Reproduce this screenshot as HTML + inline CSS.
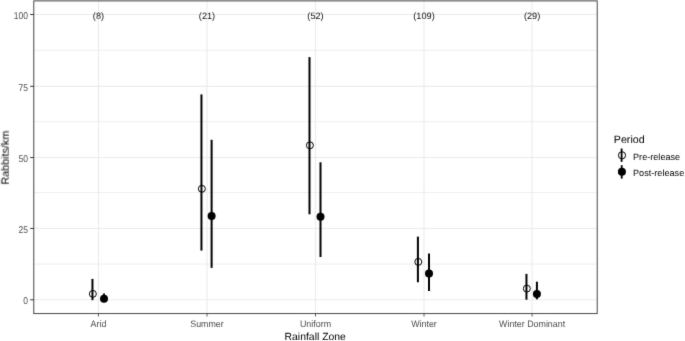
<!DOCTYPE html><html><head><meta charset="utf-8"><style>
html,body{margin:0;padding:0;background:#fff;width:685px;height:341px;overflow:hidden}
svg{display:block;font-family:"Liberation Sans",sans-serif;text-rendering:geometricPrecision}
</style></head><body>
<svg width="685" height="341" viewBox="0 0 685 341">
<defs><filter id="bl" x="0" y="0" width="685" height="341" filterUnits="userSpaceOnUse" color-interpolation-filters="sRGB"><feConvolveMatrix order="3" kernelMatrix="0.01 0.08 0.01 0.08 0.64 0.08 0.01 0.08 0.01" edgeMode="duplicate"/></filter></defs>
<g filter="url(#bl)">
<rect x="0" y="0" width="685" height="341" fill="#fff"/>
<line x1="33.8" x2="597.2" y1="264.10" y2="264.10" stroke="#ebebeb" stroke-width="0.8"/>
<line x1="33.8" x2="597.2" y1="192.50" y2="192.50" stroke="#ebebeb" stroke-width="0.8"/>
<line x1="33.8" x2="597.2" y1="121.70" y2="121.70" stroke="#ebebeb" stroke-width="0.8"/>
<line x1="33.8" x2="597.2" y1="50.30" y2="50.30" stroke="#ebebeb" stroke-width="0.8"/>
<line x1="33.8" x2="597.2" y1="299.80" y2="299.80" stroke="#ebebeb" stroke-width="1.1"/>
<line x1="33.8" x2="597.2" y1="228.45" y2="228.45" stroke="#ebebeb" stroke-width="1.1"/>
<line x1="33.8" x2="597.2" y1="157.56" y2="157.56" stroke="#ebebeb" stroke-width="1.1"/>
<line x1="33.8" x2="597.2" y1="86.33" y2="86.33" stroke="#ebebeb" stroke-width="1.1"/>
<line x1="33.8" x2="597.2" y1="14.50" y2="14.50" stroke="#ebebeb" stroke-width="1.1"/>
<line x1="98.45" x2="98.45" y1="0.9" y2="313.6" stroke="#ebebeb" stroke-width="1.1"/>
<line x1="207.0" x2="207.0" y1="0.9" y2="313.6" stroke="#ebebeb" stroke-width="1.1"/>
<line x1="315.5" x2="315.5" y1="0.9" y2="313.6" stroke="#ebebeb" stroke-width="1.1"/>
<line x1="424.0" x2="424.0" y1="0.9" y2="313.6" stroke="#ebebeb" stroke-width="1.1"/>
<line x1="532.1" x2="532.1" y1="0.9" y2="313.6" stroke="#ebebeb" stroke-width="1.1"/>
<text transform="translate(98.45,18.90)" font-size="9.2" text-anchor="middle" fill="#111">(8)</text>
<text transform="translate(207.00,18.90)" font-size="9.2" text-anchor="middle" fill="#111">(21)</text>
<text transform="translate(315.50,18.90)" font-size="9.2" text-anchor="middle" fill="#111">(52)</text>
<text transform="translate(424.00,18.90)" font-size="9.2" text-anchor="middle" fill="#111">(109)</text>
<text transform="translate(532.10,18.90)" font-size="9.2" text-anchor="middle" fill="#111">(29)</text>
<line x1="92.45" x2="92.45" y1="278.90" y2="300.15" stroke="#000" stroke-width="2.0"/>
<circle cx="92.85" cy="293.9" r="3.5" fill="none" stroke="#000" stroke-width="1.0"/>
<line x1="201.45" x2="201.45" y1="94.40" y2="250.60" stroke="#000" stroke-width="2.0"/>
<circle cx="201.85" cy="188.8" r="3.5" fill="none" stroke="#000" stroke-width="1.0"/>
<line x1="309.5" x2="309.5" y1="57.10" y2="214.30" stroke="#000" stroke-width="2.0"/>
<circle cx="309.90" cy="145.3" r="3.5" fill="none" stroke="#000" stroke-width="1.0"/>
<line x1="417.9" x2="417.9" y1="236.60" y2="282.30" stroke="#000" stroke-width="2.0"/>
<circle cx="418.30" cy="261.9" r="3.5" fill="none" stroke="#000" stroke-width="1.0"/>
<line x1="526.45" x2="526.45" y1="273.90" y2="299.70" stroke="#000" stroke-width="2.0"/>
<circle cx="526.85" cy="288.6" r="3.5" fill="none" stroke="#000" stroke-width="1.0"/>
<line x1="104.0" x2="104.0" y1="293.50" y2="300.40" stroke="#000" stroke-width="2.0"/>
<circle cx="104.0" cy="298.7" r="4.0" fill="#000"/>
<line x1="211.6" x2="211.6" y1="139.80" y2="267.90" stroke="#000" stroke-width="2.0"/>
<circle cx="211.6" cy="216.0" r="4.0" fill="#000"/>
<line x1="320.5" x2="320.5" y1="162.30" y2="257.00" stroke="#000" stroke-width="2.0"/>
<circle cx="320.5" cy="216.7" r="4.0" fill="#000"/>
<line x1="429.0" x2="429.0" y1="253.40" y2="291.10" stroke="#000" stroke-width="2.0"/>
<circle cx="429.0" cy="273.6" r="4.0" fill="#000"/>
<line x1="536.9" x2="536.9" y1="281.70" y2="299.30" stroke="#000" stroke-width="2.0"/>
<circle cx="536.9" cy="294.0" r="4.0" fill="#000"/>
<rect x="33.8" y="0.9" width="563.40" height="312.70" fill="none" stroke="#333" stroke-width="0.9"/>
<line x1="30.20" x2="33.8" y1="299.80" y2="299.80" stroke="#333" stroke-width="1.0"/>
<text transform="translate(28.00,304.10) scale(0.86,1)" font-size="9.9" text-anchor="end" fill="#4d4d4d">0</text>
<line x1="30.20" x2="33.8" y1="228.45" y2="228.45" stroke="#333" stroke-width="1.0"/>
<text transform="translate(28.00,232.75) scale(0.86,1)" font-size="9.9" text-anchor="end" fill="#4d4d4d">25</text>
<line x1="30.20" x2="33.8" y1="157.56" y2="157.56" stroke="#333" stroke-width="1.0"/>
<text transform="translate(28.00,161.86) scale(0.86,1)" font-size="9.9" text-anchor="end" fill="#4d4d4d">50</text>
<line x1="30.20" x2="33.8" y1="86.33" y2="86.33" stroke="#333" stroke-width="1.0"/>
<text transform="translate(28.00,90.63) scale(0.86,1)" font-size="9.9" text-anchor="end" fill="#4d4d4d">75</text>
<line x1="30.20" x2="33.8" y1="14.50" y2="14.50" stroke="#333" stroke-width="1.0"/>
<text transform="translate(28.00,18.80) scale(0.86,1)" font-size="9.9" text-anchor="end" fill="#4d4d4d">100</text>
<line x1="98.45" x2="98.45" y1="313.6" y2="316.50" stroke="#333" stroke-width="0.8"/>
<text transform="translate(98.45,326.70) scale(0.95,1)" font-size="9.35" text-anchor="middle" fill="#4d4d4d">Arid</text>
<line x1="207.0" x2="207.0" y1="313.6" y2="316.50" stroke="#333" stroke-width="0.8"/>
<text transform="translate(207.00,326.70) scale(0.95,1)" font-size="9.35" text-anchor="middle" fill="#4d4d4d">Summer</text>
<line x1="315.5" x2="315.5" y1="313.6" y2="316.50" stroke="#333" stroke-width="0.8"/>
<text transform="translate(315.50,326.70) scale(0.95,1)" font-size="9.35" text-anchor="middle" fill="#4d4d4d">Uniform</text>
<line x1="424.0" x2="424.0" y1="313.6" y2="316.50" stroke="#333" stroke-width="0.8"/>
<text transform="translate(424.00,326.70) scale(0.95,1)" font-size="9.35" text-anchor="middle" fill="#4d4d4d">Winter</text>
<line x1="532.1" x2="532.1" y1="313.6" y2="316.50" stroke="#333" stroke-width="0.8"/>
<text transform="translate(532.10,326.70) scale(0.95,1)" font-size="9.35" text-anchor="middle" fill="#4d4d4d">Winter Dominant</text>
<text transform="translate(315.20,340.20)" font-size="10.4" text-anchor="middle" fill="#000">Rainfall Zone</text>
<text transform="translate(8.80,157.60) rotate(-90)" font-size="10.8" text-anchor="middle" fill="#000">Rabbits/km</text>
<text transform="translate(613.80,143.20)" font-size="10.7" fill="#000">Period</text>
<line x1="621.6" x2="621.6" y1="148.5" y2="161.9" stroke="#000" stroke-width="1.8"/>
<circle cx="622" cy="155.3" r="3.6" fill="none" stroke="#000" stroke-width="1.0"/>
<line x1="621.7" x2="621.7" y1="165.2" y2="178.6" stroke="#000" stroke-width="1.8"/>
<circle cx="621.9" cy="171.8" r="4.0" fill="#000"/>
<text transform="translate(633.00,159.60)" font-size="9.15" fill="#000">Pre-release</text>
<text transform="translate(633.00,176.10)" font-size="9.15" fill="#000">Post-release</text>
</g></svg></body></html>
